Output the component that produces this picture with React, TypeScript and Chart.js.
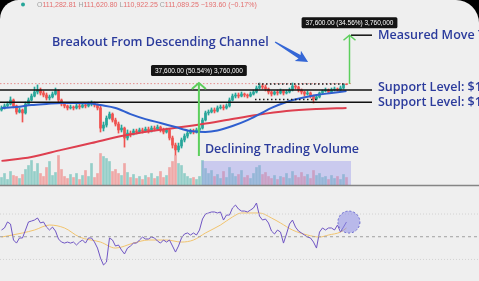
import { useEffect, useRef } from "react";
import { Chart, registerables } from "chart.js";

Chart.register(...registerables);

// Daily candles, prices in thousands of USD: [open, high, low, close]
const CANDLES: number[][] = [
  [96.3, 98.5, 95.7, 97.4], [97.4, 99.6, 96.8, 98.5], [98.5, 100.7, 97.9, 99.6], [99.6, 103.6, 99.0, 101.8],
  [101.8, 102.4, 97.4, 98.5], [98.5, 99.0, 94.1, 95.2], [95.2, 97.4, 94.7, 96.3], [96.3, 96.8, 90.0, 94.7],
  [94.7, 100.7, 94.1, 99.6], [99.6, 103.0, 99.0, 101.8], [101.8, 105.3, 101.3, 104.1], [104.1, 109.5, 103.6, 106.5],
  [106.5, 110.8, 105.3, 107.7], [107.7, 108.9, 104.7, 105.9], [105.9, 107.1, 103.6, 104.7], [104.7, 105.9, 101.8, 103.0],
  [103.0, 104.7, 101.8, 103.6], [103.6, 106.5, 103.0, 105.3], [105.3, 108.9, 104.7, 107.1], [107.1, 107.7, 100.1, 101.8],
  [101.8, 102.4, 98.5, 99.6], [99.6, 100.1, 97.4, 98.5], [98.5, 99.0, 96.3, 97.4], [97.4, 99.0, 96.8, 97.9],
  [97.9, 98.5, 96.3, 97.4], [97.4, 99.6, 96.8, 98.5], [98.5, 99.6, 96.8, 97.9], [97.9, 100.1, 97.4, 99.0],
  [99.0, 99.6, 97.4, 98.5], [98.5, 100.7, 97.9, 99.6], [99.6, 101.3, 98.5, 100.1], [100.1, 100.7, 97.9, 99.0],
  [99.0, 99.6, 96.3, 97.4], [97.4, 98.5, 85.1, 87.0], [87.0, 90.0, 85.6, 88.5], [88.5, 93.1, 87.5, 92.0],
  [92.0, 95.2, 91.5, 94.1], [94.1, 94.7, 90.0, 91.0], [91.0, 92.0, 88.0, 89.0], [89.0, 90.0, 84.6, 86.1],
  [86.1, 88.5, 85.1, 87.0], [87.0, 87.5, 78.2, 82.3], [82.3, 86.1, 81.4, 84.6], [84.6, 85.6, 82.8, 84.2],
  [84.2, 86.5, 83.7, 85.6], [85.6, 86.5, 84.2, 85.1], [85.1, 87.0, 84.6, 86.1], [86.1, 87.0, 84.6, 85.6],
  [85.6, 87.5, 85.1, 86.5], [86.5, 87.5, 84.6, 85.6], [85.6, 88.0, 85.1, 87.0], [87.0, 88.0, 85.6, 86.5],
  [86.5, 88.5, 86.1, 87.5], [87.5, 88.0, 85.1, 86.1], [86.1, 87.0, 84.2, 85.1], [85.1, 87.0, 84.6, 86.1],
  [86.1, 86.5, 81.4, 82.3], [82.3, 83.2, 77.8, 79.1], [79.1, 80.0, 74.8, 77.0], [77.0, 80.0, 76.1, 78.7],
  [78.7, 82.3, 77.8, 81.4], [81.4, 84.2, 80.5, 83.2], [83.2, 85.6, 82.3, 84.6], [84.6, 86.5, 84.2, 85.6],
  [85.6, 86.5, 84.2, 85.1], [85.1, 87.0, 84.6, 86.1], [86.1, 88.0, 85.6, 87.0], [87.0, 92.0, 86.5, 91.0],
  [91.0, 95.7, 90.5, 94.7], [94.7, 96.3, 93.6, 95.2], [95.2, 97.4, 94.7, 96.3], [96.3, 97.4, 94.7, 95.7],
  [95.7, 98.5, 95.2, 97.4], [97.4, 99.0, 96.8, 97.9], [97.9, 99.0, 96.3, 97.4], [97.4, 99.6, 96.8, 98.5],
  [98.5, 103.0, 97.9, 101.8], [101.8, 105.3, 101.3, 104.1], [104.1, 105.9, 103.0, 104.7], [104.7, 105.9, 103.0, 104.1],
  [104.1, 106.5, 103.6, 105.3], [105.3, 105.9, 103.6, 104.7], [104.7, 105.3, 103.0, 104.1], [104.1, 106.5, 103.6, 105.3],
  [105.3, 107.7, 104.7, 106.5], [106.5, 110.1, 105.9, 108.9], [108.9, 112.0, 108.3, 110.1], [110.1, 111.4, 108.3, 109.5],
  [109.5, 110.8, 107.1, 108.3], [108.3, 108.9, 105.3, 106.5], [106.5, 107.1, 104.1, 105.3], [105.3, 107.1, 104.7, 106.5],
  [106.5, 107.7, 104.7, 105.9], [105.9, 108.3, 105.3, 107.1], [107.1, 107.7, 104.7, 105.9], [105.9, 107.7, 105.3, 106.5],
  [106.5, 108.9, 105.9, 107.7], [107.7, 112.0, 107.1, 110.1], [110.1, 110.8, 108.3, 109.5], [109.5, 110.1, 106.5, 107.7],
  [107.7, 108.3, 105.3, 106.5], [106.5, 107.1, 104.1, 105.3], [105.3, 107.1, 104.7, 105.9], [105.9, 106.5, 103.0, 104.1],
  [104.1, 104.7, 100.1, 102.4], [102.4, 104.7, 101.8, 103.6], [103.6, 106.5, 103.0, 105.9], [105.9, 107.7, 105.3, 107.1],
  [107.1, 108.9, 106.5, 107.7], [107.7, 108.3, 105.9, 106.5], [106.5, 108.9, 105.9, 107.7], [107.7, 109.5, 107.1, 108.3],
  [108.3, 108.9, 107.1, 107.7], [107.7, 110.1, 107.1, 108.9], [108.9, 111.6, 108.3, 111.3], [111.3, 111.6, 110.9, 111.1],
];

// Daily volume, thousand BTC
const VOLUME: number[] = [
  8, 12, 6, 14, 10, 9, 7, 11, 16, 20,
  25, 14, 22, 12, 9, 18, 24, 10, 13, 30,
  16, 9, 7, 11, 8, 12, 6, 10, 15, 9,
  22, 8, 12, 32, 29, 27, 24, 14, 16, 12,
  10, 22, 13, 8, 11, 7, 9, 6, 10, 8,
  12, 7, 9, 14, 8, 10, 18, 24, 30, 22,
  20, 12, 9, 7, 8, 6, 9, 25, 17, 12,
  15, 9, 11, 7, 14, 8, 18, 12, 9, 11,
  15, 8, 10, 7, 12, 18, 20, 11, 13, 9,
  7, 10, 6, 9, 8, 12, 7, 14, 10, 8,
  13, 9, 11, 7, 15, 10, 12, 8, 9, 6,
  10, 7, 9, 6, 11, 8,
];

// RSI(14)
const RSI: number[] = [
  55.9, 57.7, 63.0, 61.2, 47.1, 44.4, 48.9, 48.9, 55.9, 63.0,
  63.8, 64.7, 66.5, 62.1, 63.0, 58.5, 55.9, 58.5, 55.0, 48.0,
  45.3, 44.4, 45.3, 44.4, 45.3, 42.7, 45.3, 47.1, 44.4, 48.9,
  48.9, 45.3, 40.0, 31.2, 25.1, 27.7, 48.9, 47.1, 41.8, 42.7,
  38.3, 34.8, 40.0, 41.8, 44.4, 44.4, 47.1, 49.7, 48.0, 48.0,
  49.7, 48.9, 46.2, 44.4, 47.1, 45.3, 47.1, 41.8, 36.5, 41.8,
  48.9, 52.4, 53.3, 51.5, 53.3, 51.5, 55.9, 65.6, 70.0, 70.9,
  71.8, 71.8, 70.9, 71.8, 64.7, 69.1, 69.1, 75.3, 77.9, 74.4,
  72.6, 72.6, 71.8, 73.5, 75.3, 79.7, 68.2, 64.7, 65.6, 62.1,
  55.0, 52.4, 55.9, 54.1, 44.4, 52.4, 61.2, 64.7, 58.5, 55.0,
  53.3, 51.5, 49.7, 48.9, 45.3, 40.0, 54.1, 57.7, 55.9, 57.7,
  57.7, 55.9, 60.3, 54.1, 58.5, 63.0,
];

// Moving averages: [candle index, value]
const MA50: number[][] = [
  [0, 97.4], [5, 97.9], [10, 99.0], [15, 99.6], [20, 100.1], [25, 100.1], [30, 99.8], [33, 99.0],
  [38, 97.4], [43, 94.1], [48, 91.5], [53, 89.5], [58, 87.5], [63, 85.6], [68, 85.1], [72, 85.8],
  [77, 88.0], [82, 91.0], [86, 94.1], [90, 97.4], [95, 100.7], [100, 103.0], [105, 104.7], [110, 105.9], [115, 107.1],
];
const MA200: number[][] = [
  [0, 72.4], [10, 74.0], [20, 77.0], [30, 80.0], [40, 83.2], [50, 85.6], [60, 87.5], [67, 89.0],
  [75, 91.0], [85, 93.6], [95, 95.7], [105, 96.8], [115, 97.4],
];
const RSI_MA: number[][] = [
  [0, 49.7], [7, 53.3], [11, 55.9], [16, 60.3], [21, 57.7], [26, 49.7], [33, 45.3], [38, 40.0],
  [44, 44.4], [49, 47.1], [55, 47.1], [60, 45.3], [64, 47.1], [68, 53.3], [73, 60.3], [77, 67.4],
  [80, 70.9], [86, 70.9], [90, 66.5], [93, 62.1], [97, 55.9], [102, 51.5], [106, 49.7], [109, 51.5],
  [113, 54.1], [115, 57.7],
];

// Header (last candle OHLC)
const HEADER: string[][] = [
  ["O", "111,282.81"], ["H", "111,620.80"], ["L", "110,922.25"], ["C", "111,089.25"], ["", "\u2212193.60 (\u22120.17%)"],
];

// Annotation values (price in k$, x in candle index)
const LAST_PRICE = 111.6;
const SUPPORTS = [107.7, 100.5];
const SUPPORT_LABELS = ["Support Level: $107,000", "Support Level: $100,000"];
const SUPPORT_LABEL_PRICES = [109.5, 100.3];
const RANGE_TOP = { price: 111.4, from: 85.5, to: 114.5 };
const RANGE_BOTTOM = { price: 102.1, from: 84.5, to: 105 };
const LEVEL_END = 123.5;
const LABEL_X = 125.5;
const MOVE1 = { idx: 65.8, from: 74.4, to: 112.0, label: "37,600.00 (50.54%) 3,760,000" };
const MOVE2 = { idx: 116, from: 111.4, to: 146.4, label: "37,600.00 (34.56%) 3,760,000" };
const TARGET_LABEL = "Measured Move Target";
const TITLE = { text: "Breakout From Descending Channel", idx: 16.8, price: 140.9 };
const VOLUME_NOTE = { text: "Declining Trading Volume", idx: 67.8, price: 77.0 };
const VOL_HILITE = { from: 66.8, to: 116.5, top: 24.5 };
const BLUE_ARROW = { from: [91.2, 140.9], to: [102.2, 126.0] };
const RSI_CIRCLE = { idx: 115.8, value: 62.9, r: 11 };

const UP = "#26a69a";
const DOWN = "#ef5350";
const UP_VOL = "rgba(38,166,154,0.45)";
const DOWN_VOL = "rgba(239,83,80,0.45)";
const BG = "#efefef";
const BLUE_TEXT = "#2b3b9c";
const GREEN = "#5ccf5c";
const NOTE_FONT = '600 12.5px "Open Sans"';

const overlay = {
  id: "overlay",
  beforeDraw(chart: any) {
    const { ctx, width, height } = chart;
    ctx.save();
    ctx.fillStyle = "#000";
    ctx.fillRect(0, 0, width, height);
    ctx.fillStyle = BG;
    ctx.beginPath();
    ctx.roundRect(0, 0, width, height + 40, [19, 23, 0, 0]);
    ctx.fill();
    ctx.restore();
  },
  afterDatasetsDraw(chart: any) {
    const { ctx, scales } = chart;
    const W = chart.width;
    const X = (v: number) => scales.x.getPixelForValue(v);
    const P = (v: number) => scales.yP.getPixelForValue(v);
    const V = (v: number) => scales.yV.getPixelForValue(v);
    const R = (v: number) => scales.yR.getPixelForValue(v);
    const line = (x0: number, y0: number, x1: number, y1: number) => {
      ctx.beginPath();
      ctx.moveTo(x0, y0);
      ctx.lineTo(x1, y1);
      ctx.stroke();
    };
    ctx.save();

    // volume highlight
    const hx0 = X(VOL_HILITE.from);
    const hx1 = X(VOL_HILITE.to);
    ctx.fillStyle = "rgba(150,150,235,0.42)";
    ctx.fillRect(hx0, V(VOL_HILITE.top), hx1 - hx0, V(0) - V(VOL_HILITE.top));

    // pane separator
    ctx.strokeStyle = "#858585";
    ctx.lineWidth = 1.5;
    line(0, V(0), W, V(0));

    // RSI guides
    ctx.lineWidth = 1;
    ctx.setLineDash([1, 2]);
    ctx.strokeStyle = "#d2d2d2";
    line(0, R(70), W, R(70));
    line(0, R(30), W, R(30));
    ctx.setLineDash([3, 3]);
    ctx.strokeStyle = "#a0a0a0";
    line(0, R(50), W, R(50));

    // last price dotted line
    ctx.setLineDash([1.5, 2]);
    ctx.strokeStyle = "#e58f8f";
    line(0, P(LAST_PRICE), X(MOVE2.idx + 0.5), P(LAST_PRICE));

    // range dotted lines
    ctx.setLineDash([1.5, 2.5]);
    ctx.strokeStyle = "#1a1a1a";
    ctx.lineWidth = 1.5;
    line(X(RANGE_TOP.from), P(RANGE_TOP.price), X(RANGE_TOP.to), P(RANGE_TOP.price));
    line(X(RANGE_BOTTOM.from), P(RANGE_BOTTOM.price), X(RANGE_BOTTOM.to), P(RANGE_BOTTOM.price));

    // support lines
    ctx.setLineDash([]);
    ctx.strokeStyle = "#111";
    ctx.lineWidth = 1.5;
    for (const s of SUPPORTS) line(0, P(s), X(LEVEL_END), P(s));
    // target line
    line(X(MOVE2.idx + 0.5), P(MOVE2.to), X(LEVEL_END), P(MOVE2.to));

    // green arrows
    const greenArrow = (idx: number, from: number, to: number, lw: number, hw: number) => {
      const x = X(idx);
      const y0 = P(from);
      const y1 = P(to);
      ctx.strokeStyle = GREEN;
      ctx.lineWidth = lw;
      line(x, y0, x, y1);
      ctx.beginPath();
      ctx.moveTo(x - hw, y1 + hw * 0.85);
      ctx.lineTo(x, y1);
      ctx.lineTo(x + hw, y1 + hw * 0.85);
      ctx.stroke();
    };
    greenArrow(MOVE1.idx, MOVE1.from, MOVE1.to, 2, 7);
    greenArrow(MOVE2.idx, MOVE2.from, MOVE2.to, 1.5, 6);

    // measure labels
    const labelBox = (idx: number, price: number, text: string) => {
      ctx.font = '6.5px "Liberation Sans"';
      const w = ctx.measureText(text).width + 8;
      const h = 11;
      const cx = X(idx);
      const bottom = P(price) - 7;
      ctx.fillStyle = "#141414";
      ctx.beginPath();
      ctx.roundRect(cx - w / 2, bottom - h, w, h, 1.5);
      ctx.fill();
      ctx.fillStyle = "#fff";
      ctx.textAlign = "center";
      ctx.textBaseline = "middle";
      ctx.fillText(text, cx, bottom - h / 2 + 0.5);
    };
    labelBox(MOVE1.idx, MOVE1.to, MOVE1.label);
    labelBox(MOVE2.idx, MOVE2.to, MOVE2.label);

    // blue texts
    ctx.fillStyle = BLUE_TEXT;
    ctx.font = NOTE_FONT;
    ctx.textAlign = "left";
    ctx.textBaseline = "middle";
    ctx.fillText(TITLE.text, X(TITLE.idx), P(TITLE.price));
    ctx.fillText(VOLUME_NOTE.text, X(VOLUME_NOTE.idx), P(VOLUME_NOTE.price));
    ctx.fillText(TARGET_LABEL, X(LABEL_X), P(MOVE2.to));
    SUPPORT_LABELS.forEach((t, i) => ctx.fillText(t, X(LABEL_X), P(SUPPORT_LABEL_PRICES[i])));

    // blue arrow
    const ax0 = X(BLUE_ARROW.from[0]);
    const ay0 = P(BLUE_ARROW.from[1]);
    const ax1 = X(BLUE_ARROW.to[0]);
    const ay1 = P(BLUE_ARROW.to[1]);
    const len = Math.hypot(ax1 - ax0, ay1 - ay0);
    ctx.save();
    ctx.translate(ax0, ay0);
    ctx.rotate(Math.atan2(ay1 - ay0, ax1 - ax0));
    ctx.fillStyle = "#3567d6";
    ctx.beginPath();
    ctx.moveTo(0, -0.7);
    ctx.lineTo(len - 10, -2);
    ctx.lineTo(len - 12, -6);
    ctx.lineTo(len, 0);
    ctx.lineTo(len - 12, 6);
    ctx.lineTo(len - 10, 2);
    ctx.lineTo(0, 0.7);
    ctx.closePath();
    ctx.fill();
    ctx.restore();

    // RSI circle
    ctx.beginPath();
    ctx.arc(X(RSI_CIRCLE.idx), R(RSI_CIRCLE.value), RSI_CIRCLE.r, 0, Math.PI * 2);
    ctx.fillStyle = "rgba(140,140,230,0.55)";
    ctx.fill();
    ctx.setLineDash([2, 2]);
    ctx.strokeStyle = "#6a6ad0";
    ctx.lineWidth = 1;
    ctx.stroke();
    ctx.setLineDash([]);

    // header
    ctx.fillStyle = UP;
    ctx.beginPath();
    ctx.arc(23, 4.5, 2, 0, Math.PI * 2);
    ctx.fill();
    ctx.font = '7px "Liberation Sans"';
    ctx.textAlign = "left";
    ctx.textBaseline = "middle";
    let hx = 37;
    for (const [k, v] of HEADER) {
      if (k) {
        ctx.fillStyle = "#a0a0a0";
        ctx.fillText(k, hx, 5);
        hx += ctx.measureText(k).width;
      }
      ctx.fillStyle = "#e46f6f";
      ctx.fillText(v, hx, 5);
      hx += ctx.measureText(v + " ").width;
    }
    ctx.restore();
  },
};

export default function App() {
  const ref = useRef<HTMLCanvasElement>(null);
  useEffect(() => {
    const up = CANDLES.map((c) => c[3] >= c[0]);
    const chart = new Chart(ref.current as HTMLCanvasElement, {
      type: "bar",
      data: {
        datasets: [
          {
            type: "line",
            data: MA50.map(([x, y]) => ({ x, y })),
            yAxisID: "yP",
            borderColor: "#2f5fcf",
            borderWidth: 2,
            pointRadius: 0,
            cubicInterpolationMode: "monotone",
            order: 0,
          },
          {
            type: "line",
            data: MA200.map(([x, y]) => ({ x, y })),
            yAxisID: "yP",
            borderColor: "#de3f4f",
            borderWidth: 2,
            pointRadius: 0,
            cubicInterpolationMode: "monotone",
            order: 0,
          },
          {
            type: "bar",
            data: CANDLES.map((c, i) => ({ x: i, y: [c[0], c[3]] })),
            yAxisID: "yP",
            backgroundColor: up.map((u) => (u ? UP : DOWN)),
            barThickness: 2,
            grouped: false,
            order: 1,
          },
          {
            type: "bar",
            data: CANDLES.map((c, i) => ({ x: i, y: [c[2], c[1]] })),
            yAxisID: "yP",
            backgroundColor: up.map((u) => (u ? UP : DOWN)),
            barThickness: 1,
            grouped: false,
            order: 2,
          },
          {
            type: "bar",
            data: VOLUME.map((v, i) => ({ x: i, y: v })),
            yAxisID: "yV",
            backgroundColor: up.map((u) => (u ? UP_VOL : DOWN_VOL)),
            barThickness: 2,
            grouped: false,
            order: 5,
          },
          {
            type: "line",
            data: RSI_MA.map(([x, y]) => ({ x, y })),
            yAxisID: "yR",
            borderColor: "#f2c46e",
            borderWidth: 1,
            pointRadius: 0,
            cubicInterpolationMode: "monotone",
            order: 1,
          },
          {
            type: "line",
            data: RSI.map((y, x) => ({ x, y })),
            yAxisID: "yR",
            borderColor: "#6f55c4",
            borderWidth: 1,
            pointRadius: 0,
            order: 0,
          },
        ] as any,
      },
      options: {
        animation: false,
        responsive: false,
        devicePixelRatio: 1,
        events: [],
        layout: { padding: 0 },
        plugins: { legend: { display: false }, tooltip: { enabled: false } },
        scales: {
          x: { type: "linear", min: -0.5, max: 159.1667, offset: false, display: false },
          yP: { type: "logarithmic", min: 36.94, max: 178.3, display: false },
          yV: { type: "linear", min: -95.5, max: 185.5, display: false },
          yR: { type: "linear", min: 11, max: 258.5, display: false },
        },
      } as any,
      plugins: [overlay],
    });
    return () => chart.destroy();
  }, []);
  return (
    <div style={{ position: "fixed", left: 0, top: 0, width: 479, height: 281, overflow: "hidden" }}>
      <canvas ref={ref} width={479} height={281} style={{ display: "block", width: 479, height: 281 }} />
    </div>
  );
}
